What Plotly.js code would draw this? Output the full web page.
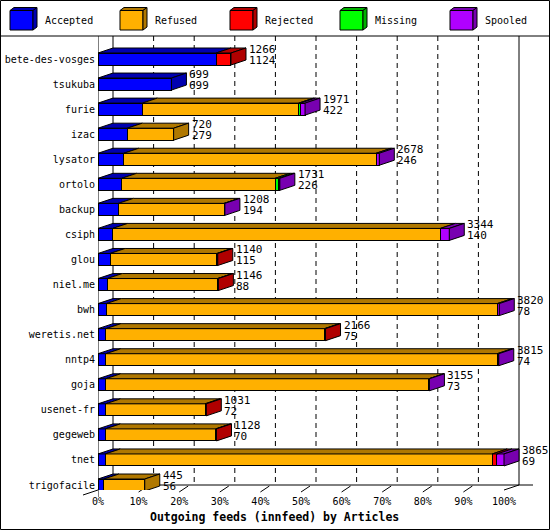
<!DOCTYPE html>
<html><head><meta charset="utf-8">
<script src="https://cdn.plot.ly/plotly-3.0.1.min.js"></script>
<style>body{margin:0;background:#fff}#chart{width:550px;height:530px}</style>
</head><body><div id="chart"></div>
<script>
// ---- data ----
const feeds = ['bete-des-vosges','tsukuba','furie','izac','lysator','ortolo','backup','csiph','glou','niel.me','bwh','weretis.net','nntp4','goja','usenet-fr','gegeweb','tnet','trigofacile'];
const totals   = [1266,699,1971,720,2678,1731,1208,3344,1140,1146,3820,2166,3815,3155,1031,1128,3865,445];
const accepted = [1124,699,422,279,246,226,194,140,115,88,78,75,74,73,72,70,69,56];
const refused  = [0,0,1488,441,2402,1460,1006,3119,1017,1050,3722,2081,3726,3077,947,1050,3684,389];
const rejected = [142,0,0,0,0,0,0,0,8,8,0,10,0,0,12,8,45,0];
const missing  = [0,0,16,0,0,35,0,0,0,0,0,0,0,0,0,0,0,0];
const spooled  = [0,0,45,0,30,10,8,85,0,0,20,0,15,5,0,0,67,0];
const seriesNames = ['Accepted','Refused','Rejected','Missing','Spooled'];
const xTickVals = [0,10,20,30,40,50,60,70,80,90,100];
const xTickLabels = ['0%','10%','20%','30%','40%','50%','60%','70%','80%','90%','100%'];
const xTitle = 'Outgoing feeds (innfeed) by Articles';

// ---- styles / geometry ----
const frontColors = ['#0000ff','#ffb000','#ff0000','#00ff00','#b000ff'];
const darkColors  = ['#0000b0','#b07800','#b00000','#00b000','#7800b0'];
const FONT = 'DejaVu Sans Mono';
const W=550,H=530,L=98,T=36,R=540,B=490;
const PW=R-L, PH=B-T;
const PX_PER_PCT = 406/100;
const xMax = PW/PX_PER_PCT;
const ROW_PX=25.06, FIRST_ROW_PX=59;
const yTop = -(FIRST_ROW_PX-T)/ROW_PX;
const yBottom = yTop + PH/ROW_PX;
const DX_PX=15, DY_PX=5;
const dX = DX_PX/PX_PER_PCT, dY = DY_PX/ROW_PX;
const BAR_W = 12/ROW_PX;
const px = v => (v-L)/PW;          // pixel -> paper x
const py = v => (B-v)/PH;          // pixel -> paper y

const seriesData = [accepted,refused,rejected,missing,spooled];
const maxTotal = Math.max(...totals);
const pct = v => v/maxTotal*100;
const idx = feeds.map((_,i)=>i);

const traces = seriesData.map((arr,s)=>({
  type:'bar', orientation:'h', name:seriesNames[s],
  y: idx, x: arr.map(v => v>0 ? pct(v) : null),
  width: BAR_W,
  marker:{color:frontColors[s], line:{color:'#000', width:1}},
  customdata: arr, hovertext: feeds, textposition:'none',
  hovertemplate:'%{hovertext}<br>'+seriesNames[s]+': %{customdata}<extra></extra>',
  showlegend:false
}));

const shapes = [];
const annotations = [];
const blk = {color:'#000', width:1};

// back wall & gridlines
const backBottom = py(485);
xTickVals.forEach(t=>{
  const solid = (t===0 || t===100);
  shapes.push({type:'line', xref:'x', yref:'paper', x0:t+dX, x1:t+dX, y0:1, y1:backBottom,
    line:{color:'#000', width:1, dash: solid ? 'solid' : '5px,4px'}, layer:'below'});
  if(!solid){
    shapes.push({type:'line', xref:'x', yref:'paper', x0:t, x1:t+9/PX_PER_PCT, y0:py(492), y1:py(486),
      line:blk, layer:'below'});
  }
});
// floor lines
shapes.push({type:'line', xref:'x', yref:'paper', x0:0, x1:(533-L)/PX_PER_PCT, y0:backBottom, y1:backBottom, line:blk, layer:'below'});
shapes.push({type:'line', xref:'x', yref:'paper', x0:100, x1:100+dX, y0:py(490), y1:backBottom, line:blk, layer:'below'});
shapes.push({type:'line', xref:'paper', yref:'paper', x0:px(83), x1:px(98), y0:py(495), y1:py(490), line:blk});
// front left axis
shapes.push({type:'line', xref:'x', yref:'paper', x0:0, x1:0, y0:1, y1:py(497), line:blk});

// 3D faces of bars + value labels
feeds.forEach((f,i)=>{
  let base=0, last=-1;
  const yt=i-BAR_W/2, yb=i+BAR_W/2;
  seriesData.forEach((arr,s)=>{
    const v=arr[i]; if(!v) return;
    const x0=pct(base), x1=pct(base+v);
    shapes.push({type:'path', xref:'x', yref:'y',
      path:`M${x0},${yt}L${x1},${yt}L${x1+dX},${yt-dY}L${x0+dX},${yt-dY}Z`,
      fillcolor:darkColors[s], line:blk, layer:'above'});
    base+=v; last=s;
  });
  const xe=pct(base);
  shapes.push({type:'path', xref:'x', yref:'y',
    path:`M${xe},${yt}L${xe+dX},${yt-dY}L${xe+dX},${yb-dY}L${xe},${yb}Z`,
    fillcolor:darkColors[last], line:blk, layer:'above'});
  annotations.push({xref:'x', yref:'y', x:xe, y:i, xanchor:'left', yanchor:'middle',
    xshift:DX_PX+1, yshift:9.5, text:String(totals[i]), showarrow:false,
    font:{family:FONT, size:11, color:'#000'}});
  annotations.push({xref:'x', yref:'y', x:xe, y:i, xanchor:'left', yanchor:'middle',
    xshift:DX_PX+1, yshift:-1.5, text:String(accepted[i]), showarrow:false,
    font:{family:FONT, size:11, color:'#000'}});
});

// legend (3D boxes)
seriesNames.forEach((n,s)=>{
  const x0=10+110*s, x1=x0+23, yT=10.5, yB=30, d=4, e=3;
  shapes.push({type:'rect', xref:'paper', yref:'paper', x0:px(x0), x1:px(x1), y0:py(yB), y1:py(yT),
    fillcolor:frontColors[s], line:blk});
  shapes.push({type:'path', xref:'paper', yref:'paper',
    path:`M${px(x0)},${py(yT)}L${px(x1)},${py(yT)}L${px(x1+d)},${py(yT-e)}L${px(x0+d)},${py(yT-e)}Z`,
    fillcolor:darkColors[s], line:blk});
  shapes.push({type:'path', xref:'paper', yref:'paper',
    path:`M${px(x1)},${py(yT)}L${px(x1+d)},${py(yT-e)}L${px(x1+d)},${py(yB-e)}L${px(x1)},${py(yB)}Z`,
    fillcolor:darkColors[s], line:blk});
  annotations.push({xref:'paper', yref:'paper', x:px(x0+33), y:py(20.5), xanchor:'left', yanchor:'middle',
    text:n, showarrow:false, font:{family:FONT, size:10, color:'#000'}});
});
// legend separator and outer frame
shapes.push({type:'line', xref:'paper', yref:'paper', x0:px(0), x1:px(550), y0:py(36), y1:py(36), line:blk});
shapes.push({type:'rect', xref:'paper', yref:'paper', x0:px(0.5), x1:px(549.5), y0:py(529.5), y1:py(0.5), line:blk});

// x axis title
annotations.push({xref:'paper', yref:'paper', x:px(274), y:py(517), xanchor:'center', yanchor:'middle',
  text:'<b>'+xTitle+'</b>', showarrow:false, font:{family:FONT, size:11.5, color:'#000'}});

const layout = {
  width:W, height:H, margin:{l:L, r:W-R, t:T, b:H-B, pad:0},
  paper_bgcolor:'#fff', plot_bgcolor:'rgba(0,0,0,0)',
  barmode:'stack', bargap:0, showlegend:false,
  font:{family:FONT, color:'#000'},
  xaxis:{range:[0,xMax], tickvals:xTickVals, ticktext:xTickLabels, showgrid:false, zeroline:false,
    showline:false, ticks:'', ticklabelstandoff:4, tickfont:{family:FONT, size:10, color:'#000'}, fixedrange:true},
  yaxis:{range:[yBottom,yTop], tickvals:idx, ticktext:feeds, showgrid:false, zeroline:false,
    showline:false, ticks:'', ticklabelstandoff:2, tickfont:{family:FONT, size:10, color:'#000'}, fixedrange:true},
  shapes, annotations
};
Plotly.newPlot('chart', traces, layout, {displayModeBar:false, staticPlot:true});
</script></body></html>
